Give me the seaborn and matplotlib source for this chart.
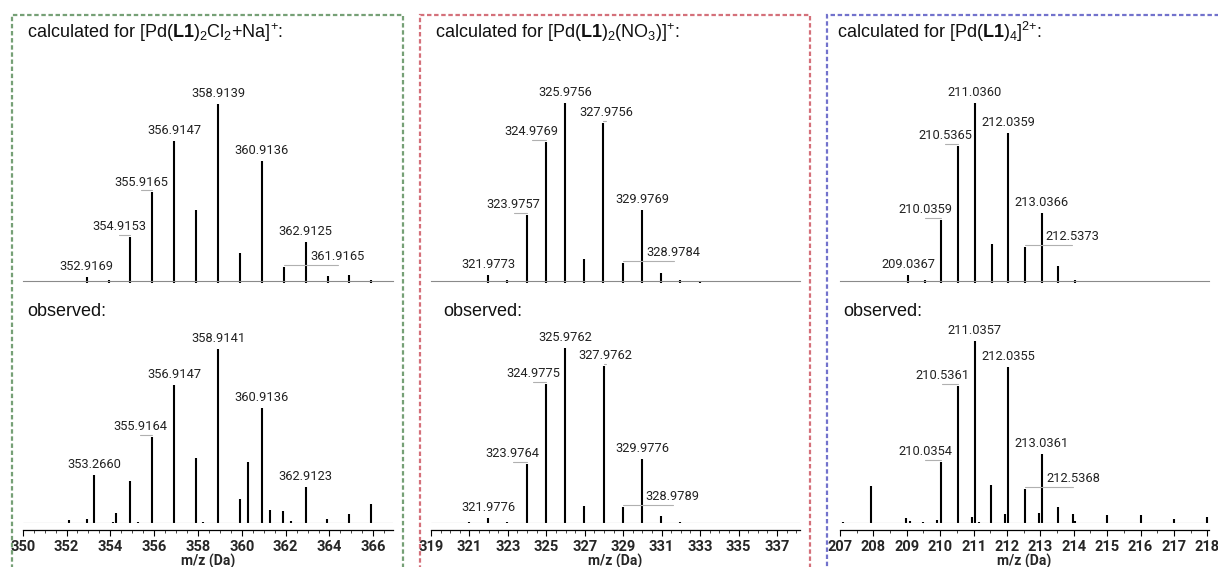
import numpy as np
import seaborn as sns
import matplotlib.pyplot as plt
from matplotlib.patches import Rectangle
from matplotlib.ticker import MultipleLocator

# ---- [Pd(L1)2Cl2+Na]+ ----
calc1_mz = [352.9169, 353.92, 354.9153, 355.9165, 356.9147, 357.914, 358.9139, 359.914,
            360.9136, 361.9165, 362.9125, 363.913, 364.912, 365.91]
calc1_int = [2.3, 0.5, 25, 50, 79, 40, 100, 16, 68, 8, 22, 3, 3.4, 0.5]
calc1_labels = ["352.9169", "354.9153", "355.9165", "356.9147", "358.9139", "360.9136",
                "361.9165", "362.9125"]

obs1_mz = [352.12, 352.92, 353.2660, 354.1, 354.27, 354.91, 355.26, 355.9164, 356.9147,
           357.91, 358.25, 358.9141, 359.9, 360.28, 360.9136, 361.28, 361.9, 362.25,
           362.9123, 363.9, 364.9, 365.9]
obs1_int = [1.7, 2.3, 27.6, 0.6, 5.7, 24.1, 0.6, 49.4, 79.3, 37.4, 0.6, 100, 13.8, 35,
            66.1, 7.5, 6.9, 1.1, 20.7, 2.3, 5.2, 10.9]
obs1_labels = ["353.2660", "355.9164", "356.9147", "358.9141", "360.9136", "362.9123"]

# ---- [Pd(L1)2(NO3)]+ ----
calc2_mz = [321.9773, 322.98, 323.9757, 324.9769, 325.9756, 326.976, 327.9756, 328.9784,
            329.9769, 330.98, 331.98, 332.98]
calc2_int = [3.4, 0.6, 37, 78, 100, 12.4, 89, 10, 40, 4.5, 0.4, 0.2]
calc2_labels = ["321.9773", "323.9757", "324.9769", "325.9756", "327.9756", "328.9784",
                "329.9769"]

obs2_mz = [321.0, 321.9776, 322.98, 323.9764, 324.9775, 325.9762, 326.98, 327.9762,
           328.9789, 329.9776, 330.98, 331.98]
obs2_int = [0.6, 2.9, 0.6, 33.7, 79.4, 100, 9.7, 89.7, 9.1, 36.6, 4.0, 0.6]
obs2_labels = ["321.9776", "323.9764", "324.9775", "325.9762", "327.9762", "328.9789",
               "329.9776"]

# ---- [Pd(L1)4]2+ ----
calc3_mz = [209.0367, 209.54, 210.0359, 210.5365, 211.0360, 211.54, 212.0359, 212.5373,
            213.0366, 213.54, 214.04]
calc3_int = [3.4, 0.6, 34, 76, 100, 21, 83, 19, 38, 8.4, 0.6]
calc3_labels = ["209.0367", "210.0359", "210.5365", "211.0360", "212.0359", "212.5373",
                "213.0366"]

obs3_mz = [207.08, 207.93, 208.97, 209.1, 209.49, 209.9, 210.0354, 210.5361, 210.94,
           211.0357, 211.16, 211.53, 211.94, 212.0355, 212.5368, 212.95, 213.0361, 213.54,
           213.97, 214.04, 215.0, 216.0, 217.0, 218.0]
obs3_int = [0.5, 20.3, 2.7, 1.0, 0.5, 1.6, 33.5, 75.3, 3.3, 100, 0.5, 20.9, 4.9, 85.7,
            18.7, 5.5, 37.9, 8.8, 4.9, 1.1, 4.4, 4.4, 2.2, 3.3]
obs3_labels = ["210.0354", "210.5361", "211.0357", "212.0355", "212.5368", "213.0361"]

titles = [r"$\mathrm{calculated\ for\ [Pd(}\mathbf{L1}\mathrm{)_2Cl_2{+}Na]^{+}}$:",
          r"$\mathrm{calculated\ for\ [Pd(}\mathbf{L1}\mathrm{)_2(NO_3)]^{+}}$:",
          r"$\mathrm{calculated\ for\ [Pd(}\mathbf{L1}\mathrm{)_4]^{2{+}}}$:"]

# horizontal label shifts (px) for crowded peaks
calc_dx = [[0, -11, -11, 0, 0, 0, 54, 0],
           [0, -13, -14, 0, 3, 51, 0],
           [0, -16, -13, 0, 0, 47, 0]]
obs_dx = [[0, -12, 0, 0, 0, 0],
          [0, -14, -13, 0, 2, 50, 0],
          [-16, -16, 0, 0, 48, 0]]

sns.set_theme(style="white")
plt.rcParams["font.family"] = ["Roboto", "DejaVu Sans"]
plt.rcParams["mathtext.fontset"] = "custom"
plt.rcParams["mathtext.rm"] = "Liberation Sans"
plt.rcParams["mathtext.bf"] = "Liberation Sans:bold"
plt.rcParams["mathtext.it"] = "Liberation Sans:italic"

W, H = 1218, 567
fig = plt.figure(figsize=(W / 100, H / 100), dpi=100)


def px_rect(left, top, right, bottom):
    return [left / W, 1 - bottom / H, (right - left) / W, (bottom - top) / H]


def spectrum(ax, mz, inten, labels, dx, base_px, height_px, width_px, below=0.0):
    mz = np.array(mz)
    inten = np.array(inten)
    ytop = height_px / base_px * 100
    ax.set_ylim(0, ytop)
    ax.vlines(mz, -below, inten, color="black", lw=1.5, clip_on=False)
    x0, x1 = ax.get_xlim()
    ppx = ytop / height_px
    xpx = (x1 - x0) / width_px
    for lab, d in zip(labels, dx):
        i = np.argmin(np.abs(mz - float(lab)))
        x, h = mz[i], inten[i]
        ax.annotate(lab, xy=(x, h), xytext=(d, 7), textcoords="offset pixels",
                    ha="center", va="baseline", fontsize=9.3, color="#222222")
        if d != 0:
            ax.plot([x, x + d * xpx], [h + 2 * ppx, h + 2 * ppx], color="#b0b0b0",
                    lw=0.8, clip_on=False)


panels = [
    dict(xlim=(350, 366.9), left=22.7, right=393, major=2, offset=0, color="#76a076",
         box=(12, 403), tx=27, ox=27, base=(177, 174),
         calc=(calc1_mz, calc1_int, calc1_labels), obs=(obs1_mz, obs1_int, obs1_labels)),
    dict(xlim=(319, 338.2), left=431, right=800, major=2, offset=1, color="#d4707a",
         box=(420, 810), tx=435, ox=443, base=(178, 175),
         calc=(calc2_mz, calc2_int, calc2_labels), obs=(obs2_mz, obs2_int, obs2_labels)),
    dict(xlim=(207, 218.05), left=840, right=1209, major=1, offset=0, color="#7272cc",
         box=(827, 1240), tx=837, ox=843, base=(178, 182),
         calc=(calc3_mz, calc3_int, calc3_labels), obs=(obs3_mz, obs3_int, obs3_labels)),
]

for k, p in enumerate(panels):
    width = p["right"] - p["left"]

    # calculated pattern
    ax = fig.add_axes(px_rect(p["left"], 40, p["right"], 281))
    ax.set_xlim(*p["xlim"])
    ax.patch.set_alpha(0)
    spectrum(ax, *p["calc"], calc_dx[k], p["base"][0], 241, width, below=1.3)
    sns.despine(ax=ax, left=True)
    ax.spines["bottom"].set_color("#8a8a8a")
    ax.spines["bottom"].set_linewidth(0.8)
    ax.set_xticks([])
    ax.set_yticks([])

    # observed pattern
    ax = fig.add_axes(px_rect(p["left"], 300, p["right"], 523))
    ax.set_xlim(*p["xlim"])
    ax.patch.set_alpha(0)
    spectrum(ax, *p["obs"], obs_dx[k], p["base"][1], 223, width)
    ax.axhline(0, color="#8a8a8a", lw=0.8)
    sns.despine(ax=ax, left=True)
    ax.spines["bottom"].set_position(("outward", 5))
    ax.spines["bottom"].set_color("black")
    ax.spines["bottom"].set_linewidth(0.9)
    ax.set_yticks([])
    ax.xaxis.set_major_locator(MultipleLocator(p["major"], offset=p["offset"]))
    ax.xaxis.set_minor_locator(MultipleLocator(0.5))
    ax.tick_params(axis="x", which="major", direction="out", length=4, width=0.8,
                   color="black", pad=3, bottom=True)
    ax.tick_params(axis="x", which="minor", direction="out", length=2.5, width=0.7,
                   color="#444444", bottom=True)
    for t in ax.get_xticklabels():
        t.set_fontweight("bold")
        t.set_fontsize(10.5)
    ax.set_xlabel("m/z (Da)", fontsize=10, fontweight="bold", labelpad=0)

    # headings
    fig.text(p["tx"] / W, 1 - 37.5 / H, titles[k], ha="left", va="baseline",
             fontsize=13, family="Liberation Sans", color="#111111")
    fig.text(p["ox"] / W, 1 - 316 / H, "observed:", ha="left", va="baseline",
             fontsize=13, family="Liberation Sans", color="#111111")

    # dashed frame
    b0, b1 = p["box"]
    fig.add_artist(Rectangle((b0 / W, -0.1), (b1 - b0) / W, 1.1 - 15 / H,
                             transform=fig.transFigure, fill=False, ec=p["color"],
                             lw=1.6, ls=(0, (2, 1.2))))

fig.savefig("out.png", dpi=100)
